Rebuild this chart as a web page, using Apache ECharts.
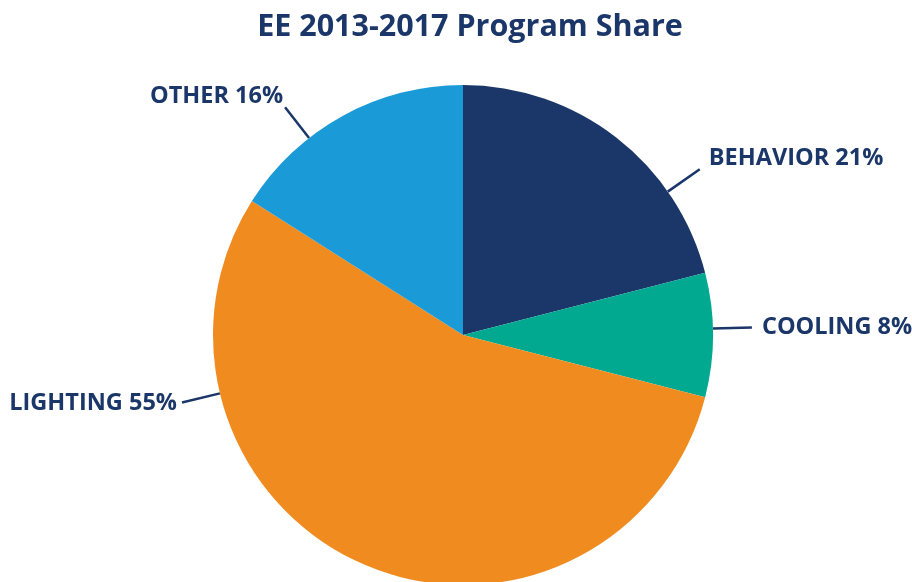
<!DOCTYPE html>
<html>
<head>
<meta charset="utf-8">
<title>EE 2013-2017 Program Share</title>
<script src="https://cdn.jsdelivr.net/npm/echarts@6/dist/echarts.min.js"></script>
<style>
  html, body { margin: 0; padding: 0; background: #ffffff; }
  #chart { width: 912px; height: 582px; }
</style>
</head>
<body>
<div id="chart"></div>
<script>
// Program categories and their share of the 2013-2017 portfolio (%)
const categories = ['BEHAVIOR', 'COOLING', 'LIGHTING', 'OTHER'];
const shares = [21, 8, 55, 16];

const sliceColors = ['#1b3668', '#00a98f', '#f08c1f', '#1a9bd7'];
const navy = '#1b3668';
const fontFamily = '"Open Sans", "Noto Sans", sans-serif';

const pieCenter = [463, 335];
const pieRadius = 250;
const leaderLength = 39;

// Callouts: leader direction (degrees, counter-clockwise from 3 o'clock),
// text offset from the leader's outer end, and text alignment
const callouts = [
  { angle: 35, dx: 9, dy: -11, align: 'left' },
  { angle: 1.5, dx: 10, dy: 0, align: 'left' },
  { angle: 193.5, dx: -5, dy: 1, align: 'right' },
  { angle: 128, dx: -2, dy: -11, align: 'right' }
];

function polar(angleDeg, r) {
  const a = angleDeg * Math.PI / 180;
  return [pieCenter[0] + r * Math.cos(a), pieCenter[1] - r * Math.sin(a)];
}

const chart = echarts.init(document.getElementById('chart'), null, { renderer: 'canvas' });

chart.setOption({
  backgroundColor: '#ffffff',
  animation: false,
  title: {
    text: 'EE 2013-2017 Program Share',
    left: 465,
    top: 7,
    textAlign: 'center',
    textStyle: {
      color: navy,
      fontFamily: fontFamily,
      fontWeight: 'bold',
      fontSize: 30.5
    }
  },
  series: [{
    type: 'pie',
    center: pieCenter,
    radius: pieRadius,
    startAngle: 90,
    clockwise: true,
    silent: true,
    itemStyle: { borderWidth: 0 },
    label: {
      show: true,
      position: 'outside',
      overflow: 'none',
      formatter: function (p) { return p.name + ' ' + p.value + '%'; },
      color: navy,
      fontFamily: fontFamily,
      fontWeight: 'bold',
      fontSize: 23.5
    },
    labelLine: {
      show: true,
      length: 20,
      length2: 0,
      smooth: false,
      lineStyle: { color: navy, width: 2.5 }
    },
    labelLayout: function (params) {
      const c = callouts[params.dataIndex];
      const inner = polar(c.angle, pieRadius);
      const outer = polar(c.angle, pieRadius + leaderLength);
      return {
        x: outer[0] + c.dx,
        y: outer[1] + c.dy,
        align: c.align,
        verticalAlign: 'middle',
        width: 400,
        labelLinePoints: [inner, outer, outer]
      };
    },
    data: categories.map(function (name, i) {
      return { name: name, value: shares[i], itemStyle: { color: sliceColors[i] } };
    })
  }]
});
</script>
</body>
</html>
